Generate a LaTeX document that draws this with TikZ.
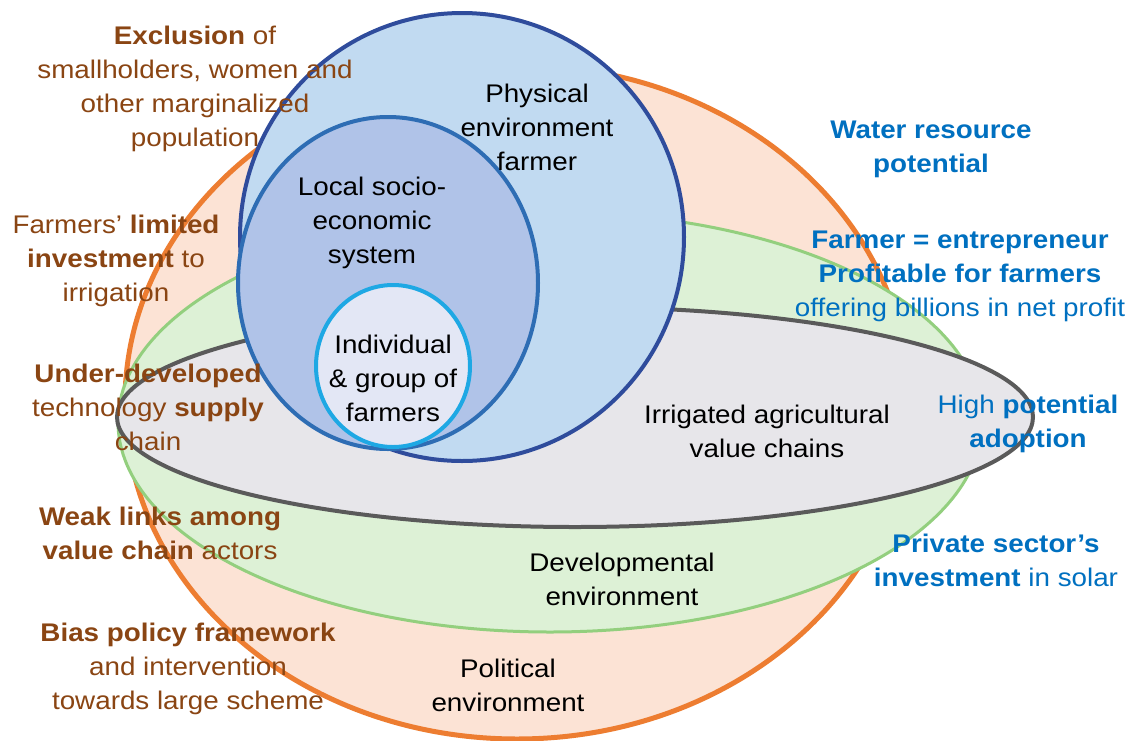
\documentclass[tikz,border=0pt]{standalone}
\usepackage{fontspec}
\setmainfont{Liberation Sans}[FakeStretch=1.09]
\definecolor{orstroke}{HTML}{ED7D31}
\definecolor{orfill}{HTML}{FCE3D5}
\definecolor{grstroke}{HTML}{93CF7E}
\definecolor{grfill}{HTML}{DDF1D6}
\definecolor{gystroke}{HTML}{5A5A5A}
\definecolor{gyfill}{HTML}{E7E6EA}
\definecolor{bgstroke}{HTML}{2F4C9C}
\definecolor{bgfill}{HTML}{C1DAF1}
\definecolor{mdstroke}{HTML}{2E6DB4}
\definecolor{mdfill}{HTML}{B0C3E8}
\definecolor{smstroke}{HTML}{1EA8E4}
\definecolor{smfill}{HTML}{E3E7F5}
\definecolor{browntxt}{HTML}{8A4513}
\definecolor{bluetxt}{HTML}{0070C0}
\begin{document}
\begin{tikzpicture}[x=1pt,y=-1pt,
  txt/.style={align=center,inner sep=0pt,font=\fontsize{25.5}{34}\selectfont},
  brown/.style={txt,text=browntxt},
  bluet/.style={txt,text=bluetxt},
  blackt/.style={txt,text=black}]
\useasboundingbox (0,0) rectangle (1136,740);
\fill[white] (0,0) rectangle (1136,740);
% outer shapes
\draw[orstroke,fill=orfill,line width=5pt] (517,402) ellipse [x radius=392pt,y radius=337pt];
\draw[grstroke,fill=grfill,line width=3pt] (550,422) ellipse [x radius=432pt,y radius=210pt];
\draw[gystroke,fill=gyfill,line width=4pt] (575,417) ellipse [x radius=458pt,y radius=110pt];
\draw[bgstroke,fill=bgfill,line width=4pt] (462,237) ellipse [x radius=222pt,y radius=224pt];
\draw[mdstroke,fill=mdfill,line width=4pt] (388,283) ellipse [x radius=150pt,y radius=166pt];
\draw[smstroke,fill=smfill,line width=4pt] (393,366) ellipse [x radius=77pt,y radius=81pt];
% inner labels
\node[blackt] (phys) at (537,127) {Physical\\environment\\farmer};
\node[blackt] (local) at (372,223) {Local socio-\\economic\\system};
\node[blackt] (indiv) at (393,378) {Individual\\\& group of\\farmers};
\node[blackt] (irrig) at (767,431) {Irrigated agricultural\\value chains};
\node[blackt] (devel) at (622,579) {Developmental\\environment};
\node[blackt] (polit) at (508,685) {Political\\environment};
% left labels
\node[brown] (excl) at (195,89) {\textbf{Exclusion} of\\smallholders, women and\\other marginalized\\population};
\node[brown] (limit) at (116,261) {Farmers' \textbf{limited}\\\textbf{investment} to\\irrigation};
\node[brown] (under) at (148,407) {\textbf{Under-developed}\\technology \textbf{supply}\\chain};
\node[brown] (weak) at (160,533) {\textbf{Weak links among}\\\textbf{value chain} actors};
\node[brown] (bias) at (188,669) {\textbf{Bias policy framework}\\and intervention\\towards large scheme};
% right labels
\node[bluet] (water) at (931,149) {\textbf{Water resource}\\\textbf{potential}};
\node[bluet] (farmer) at (960,276) {\textbf{Farmer = entrepreneur}\\\textbf{Profitable for farmers}\\offering billions in net profit};
\node[bluet] (high) at (1028,424) {High \textbf{potential}\\\textbf{adoption}};
\node[bluet] (priv) at (996,560) {\textbf{Private sector’s}\\\textbf{investment} in solar};
\end{tikzpicture}
\end{document}
